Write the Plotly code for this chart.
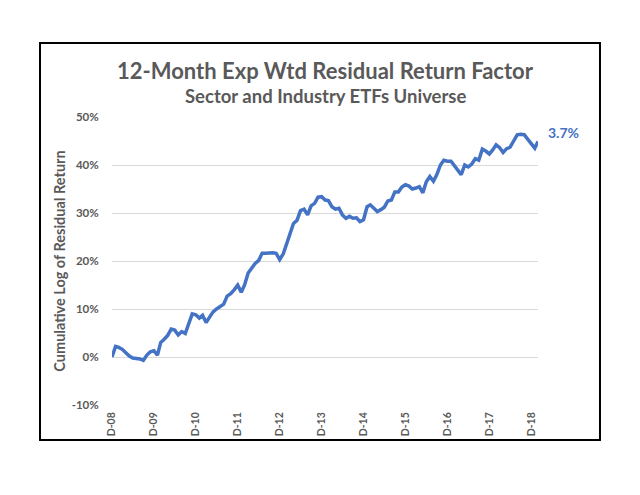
import plotly.graph_objects as go
import pandas as pd

# monthly cumulative log residual return (%), Dec-2008 .. Feb-2019
dates = pd.date_range("2008-12-31", periods=123, freq="ME")
values = [
    0.0, 2.2, 2.0, 1.6, 0.9, 0.2, -0.2, -0.3, -0.4, -0.7, 0.4, 1.1,
    1.3, 0.4, 3.0, 3.7, 4.5, 5.8, 5.6, 4.6, 5.3, 4.9, 7.0, 9.0,
    8.8, 8.1, 8.7, 7.2, 8.3, 9.4, 10.0, 10.4, 11.0, 12.7, 13.2, 14.0,
    15.0, 13.5, 15.0, 17.5, 18.6, 19.5, 20.1, 21.6, 21.6, 21.7, 21.7, 21.6,
    20.3, 21.5, 23.5, 25.8, 27.8, 28.5, 30.5, 30.8, 29.6, 31.5, 32.0, 33.3,
    33.4, 32.7, 32.6, 31.3, 30.8, 31.0, 29.6, 28.9, 29.3, 28.9, 29.0, 28.2,
    28.6, 31.3, 31.7, 31.0, 30.3, 30.7, 31.2, 32.5, 32.7, 34.4, 34.4, 35.4,
    35.9, 35.6, 35.0, 35.2, 35.5, 34.2, 36.5, 37.6, 36.6, 38.0, 40.0, 41.0,
    40.8, 40.8, 40.0, 38.9, 38.0, 40.0, 39.6, 40.2, 41.3, 41.0, 43.3, 42.9,
    42.3, 43.2, 44.2, 43.6, 42.6, 43.4, 43.7, 45.0, 46.3, 46.4, 46.3, 45.4,
    44.3, 43.5, 44.9,
]
tick_dates = [d for d in dates if d.month == 12]
tick_labels = ["D-%02d" % (d.year % 100) for d in tick_dates]
y_ticks = [-10, 0, 10, 20, 30, 40, 50]
y_labels = ["%d%%" % v for v in y_ticks]
end_label = "3.7%"

gray = "#595959"
blue = "#4472C4"

fig = go.Figure()
fig.add_trace(go.Scatter(x=dates, y=values, mode="lines",
                         line=dict(color=blue, width=3.5), showlegend=False))

# page body adds 8px, so margins are 8px smaller on left/top
fig.update_layout(
    width=640, height=495,
    margin=dict(l=104, r=110, t=109, b=98),
    paper_bgcolor="white", plot_bgcolor="white",
    font=dict(family="Lato", color=gray),
    xaxis=dict(range=[dates[0], dates[-1]], tickvals=tick_dates, ticktext=tick_labels,
               tickangle=-90, showgrid=False, zeroline=False, showline=False,
               ticks="outside", ticklen=2, tickcolor="rgba(0,0,0,0)",
               tickfont=dict(size=10.5, weight="bold", color=gray)),
    yaxis=dict(range=[-10, 50], tickvals=y_ticks, ticktext=y_labels,
               gridcolor="#D9D9D9", gridwidth=1, zeroline=False, showline=False,
               ticks="outside", ticklen=10, tickcolor="rgba(0,0,0,0)",
               tickfont=dict(size=11.5, weight="bold", color=gray),
               title=dict(text="<b>Cumulative Log of Residual Return</b>",
                          font=dict(size=14.5, color=gray), standoff=2)),
)

fig.add_annotation(x=0.5, y=1.163, xref="paper", yref="paper", yanchor="middle",
                   showarrow=False,
                   text="<b>12-Month Exp Wtd Residual Return Factor</b>",
                   font=dict(size=22, color=gray))
fig.add_annotation(x=0.5, y=1.073, xref="paper", yref="paper", yanchor="middle",
                   showarrow=False,
                   text="<b>Sector and Industry ETFs Universe</b>",
                   font=dict(size=18.5, color=gray))
fig.add_annotation(x=dates[-1], y=46.7, xanchor="left", xshift=8, showarrow=False,
                   text="<b>" + end_label + "</b>", font=dict(size=14, color=blue))

# outer frame
fig.add_shape(type="rect", xref="paper", yref="paper",
              x0=-0.169, x1=1.1455, y0=-0.1215, y1=1.257,
              line=dict(color="black", width=2))

fig.write_html("out.html")
